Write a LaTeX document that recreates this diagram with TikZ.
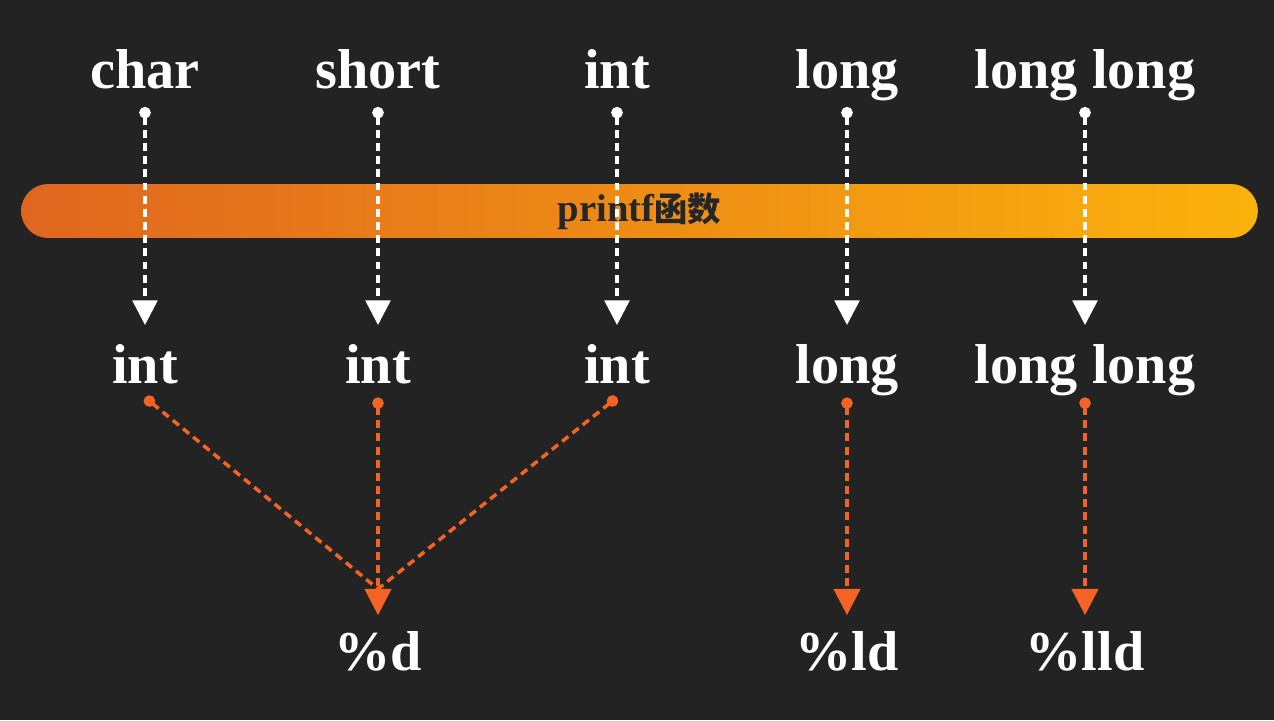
\documentclass[tikz,border=0pt]{standalone}
\usepackage{fontspec}
\setmainfont{Liberation Serif}
\newfontfamily\cjkfont{Noto Sans CJK SC}
\usetikzlibrary{arrows.meta}
\definecolor{bgdark}{HTML}{232323}
\definecolor{barleft}{HTML}{E0661F}
\definecolor{barright}{HTML}{FBB20C}
\definecolor{fmtorange}{HTML}{F26324}
\definecolor{bartext}{HTML}{262626}
\tikzset{
  word/.style={text=white,font=\bfseries\fontsize{32}{38}\selectfont,inner sep=0pt,anchor=base,text height=22pt,text depth=8pt},
  bar/.style={minimum width=24.74cm,minimum height=1.08cm,rounded corners=0.54cm,left color=barleft,right color=barright,text=bartext,font=\bfseries\fontsize{22}{24}\selectfont,inner sep=0pt},
  pass/.style={draw=white,line width=2pt,dash pattern=on 4.5pt off 3pt,{Circle[length=6.5pt]}-{Triangle[width=14pt,length=14pt]},shorten <=2.6pt,shorten >=10.8pt},
  fmt/.style={draw=fmtorange,line width=2pt,dash pattern=on 4.5pt off 3pt,{Circle[length=6.5pt]}-{Triangle[width=15pt,length=15pt]},shorten >=9pt},
  fmtline/.style={draw=fmtorange,line width=2pt,dash pattern=on 4.5pt off 3pt,{Circle[length=6.5pt]}-}
}
\begin{document}
\begin{tikzpicture}[x=0.02cm,y=-0.02cm]
\fill[bgdark] (0,0) rectangle (1274,720);
\useasboundingbox (0,0) rectangle (1274,720);

\node[bar] (printf) at (639.5,211) {printf{\cjkfont\fontsize{19}{22}\selectfont 函数}};

\node[word] (char) at (145,88) {char};
\node[word] (short) at (378,88) {short};
\node[word] (int) at (617,88) {int};
\node[word] (long) at (847,88) {long};
\node[word] (longlong) at (1085,88) {long long};

\node[word] (i1) at (145,383) {int};
\node[word] (i2) at (378,383) {int};
\node[word] (i3) at (617,383) {int};
\node[word] (l1) at (847,383) {long};
\node[word] (ll1) at (1085,383) {long long};

\draw[pass] (char)--(i1);
\draw[pass] (short)--(i2);
\draw[pass] (int)--(i3);
\draw[pass] (long)--(l1);
\draw[pass] (longlong)--(ll1);

\node[word] (pd) at (378,670) {\%d};
\node[word] (pld) at (847,670) {\%ld};
\node[word] (plld) at (1085,670) {\%lld};

\coordinate (meet) at (378,589);
\draw[fmtline] (i1.south)--(meet);
\draw[fmtline] (i3.south)--(meet);
\draw[fmt] (i2)--(pd);
\draw[fmt] (l1)--(pld);
\draw[fmt] (ll1)--(plld);
\end{tikzpicture}
\end{document}
